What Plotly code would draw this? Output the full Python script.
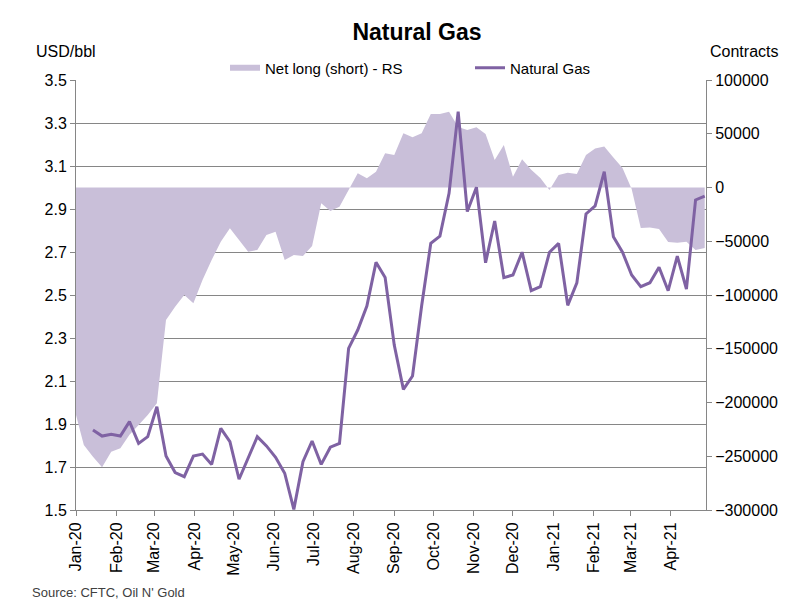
import pandas as pd
import plotly.graph_objects as go

# weekly CFTC report dates (Tuesdays)
net_dates = pd.date_range("2019-12-31", periods=70, freq="7D")
price_dates = net_dates[2:]

# net long (short) positions, contracts - right scale
net_long = [
    -207000, -239500, -250400, -260300, -245700, -242600, -230000, -221000, -211600, -200800,
    -123300, -110900, -100000, -107700, -86000, -67400, -50400, -37950, -48800, -59700,
    -58100, -44200, -41100, -67400, -62800, -63700, -54400, -14700, -21900, -17900,
    -2300, 13200, 8600, 14700, 31800, 30200, 50400, 46700, 50400, 68400,
    68400, 70500, 56300, 53500, 56000, 49800, 25600, 39500, 10000, 26200,
    16500, 8800, -2300, 11600, 13800, 12600, 30200, 36300, 38100, 27900,
    18100, -1500, -37700, -37200, -38600, -50700, -51300, -50400, -58100, -56300,
]

# natural gas price, USD - left scale
gas_price = [
    1.872, 1.844, 1.852, 1.844, 1.911, 1.810, 1.841, 1.980, 1.751, 1.674,
    1.655, 1.751, 1.760, 1.712, 1.880, 1.818, 1.643, 1.740, 1.841, 1.798,
    1.745, 1.671, 1.503, 1.725, 1.821, 1.712, 1.792, 1.810, 2.252, 2.337,
    2.449, 2.652, 2.581, 2.267, 2.061, 2.123, 2.450, 2.740, 2.774, 2.973,
    3.353, 2.888, 3.001, 2.650, 2.844, 2.581, 2.593, 2.699, 2.520, 2.539,
    2.699, 2.740, 2.452, 2.557, 2.877, 2.914, 3.074, 2.771, 2.699, 2.593,
    2.539, 2.557, 2.629, 2.520, 2.681, 2.528, 2.942, 2.960,
]

font = "Liberation Sans, Arial, sans-serif"
grid = "#868686"

# page body has an 8px margin, so the figure is a bit smaller than the window
W, H = 791, 605
L, R, T, B = 68, 93, 72, 103
pw, ph = W - L - R, H - T - B

fig = go.Figure()

# area sits on the primary (contracts) axis so the price line draws on top
fig.add_trace(go.Scatter(
    x=net_dates, y=net_long, name="Net long (short) - RS",
    mode="none", fill="tozeroy", fillcolor="#C9BFD9", yaxis="y",
))
fig.add_trace(go.Scatter(
    x=price_dates, y=gas_price, name="Natural Gas",
    mode="lines", line=dict(color="#7F62A3", width=3), yaxis="y2",
))

fig.update_layout(
    width=W, height=H,
    margin=dict(l=L, r=R, t=T, b=B),
    paper_bgcolor="white", plot_bgcolor="white",
    font=dict(family=font, size=16, color="black"),
    title=dict(text="<b>Natural Gas</b>", x=409 / W, xanchor="center",
               y=1 - 24 / H, yanchor="middle", font=dict(size=23)),
    showlegend=True,
    legend=dict(orientation="h", x=(217 - L) / pw, xanchor="left",
                y=1 + 12 / ph, yanchor="middle",
                bgcolor="rgba(0,0,0,0)", font=dict(size=15),
                entrywidth=200, entrywidthmode="pixels", itemwidth=30),
    xaxis=dict(
        type="date", range=["2020-01-01", "2021-04-28"],
        tick0="2020-01-01", dtick="M1", tickformat="%b-%y", tickangle=-90,
        showgrid=False, showline=True, linecolor=grid, linewidth=1,
        ticks="outside", ticklen=5, tickcolor=grid,
    ),
    yaxis=dict(
        side="right", range=[-300000, 100000], dtick=50000,
        showgrid=False, zeroline=False, showline=True, linecolor=grid,
        ticks="outside", ticklen=5, tickcolor=grid, tickformat="d",
    ),
    yaxis2=dict(
        overlaying="y", side="left", range=[1.5, 3.5], tick0=1.5, dtick=0.2,
        tickformat=".1f",
        showgrid=True, gridcolor=grid, gridwidth=1, zeroline=False,
        showline=True, linecolor=grid, ticks="outside", ticklen=5, tickcolor=grid,
    ),
    annotations=[
        dict(text="USD/bbl", xref="paper", yref="paper", x=(58 - L) / pw, y=1 + 28 / ph,
             xanchor="center", yanchor="middle", showarrow=False, font=dict(size=16)),
        dict(text="Contracts", xref="paper", yref="paper", x=1 + 38 / pw, y=1 + 28 / ph,
             xanchor="center", yanchor="middle", showarrow=False, font=dict(size=16)),
        dict(text="Source: CFTC, Oil N' Gold", xref="paper", yref="paper",
             x=-(L - 22) / pw, y=-82 / ph, xanchor="left", yanchor="middle", showarrow=False,
             font=dict(size=13, color="#404040")),
    ],
)

fig.write_html("out.html")
